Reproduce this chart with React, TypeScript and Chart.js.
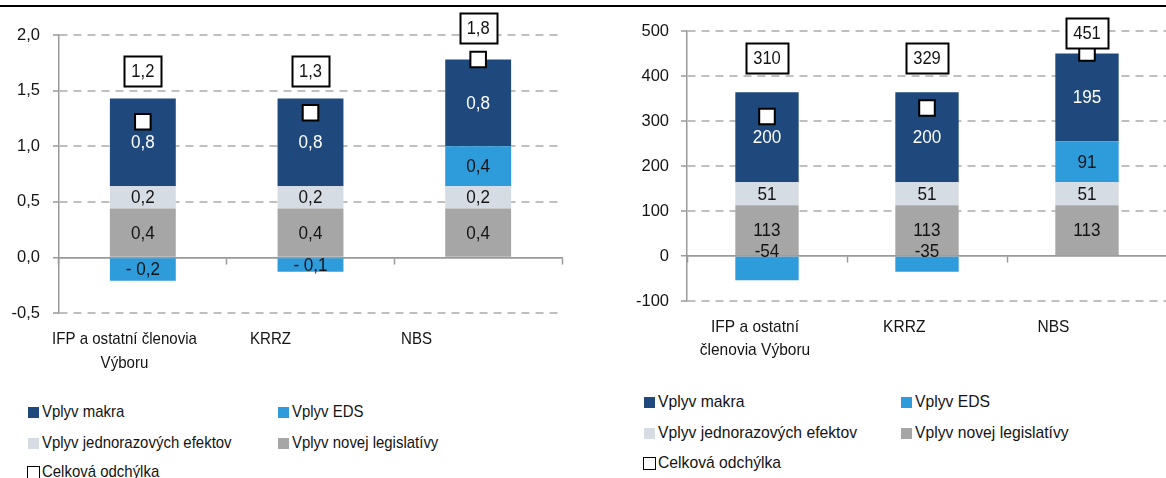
import React, { useEffect, useRef } from 'react';
import { Chart, registerables } from 'chart.js';

Chart.register(...registerables);

// ---------- DATA ----------
const seriesNames = ['Vplyv makra', 'Vplyv EDS', 'Vplyv jednorazových efektov', 'Vplyv novej legislatívy'];
const totalName = 'Celková odchýlka';

const leftCategories = [['IFP a ostatní členovia', 'Výboru'], ['KRRZ'], ['NBS']];
const leftLegislativa = [0.44, 0.44, 0.44];
const leftJednorazove = [0.2, 0.2, 0.2];
const leftEDS = [-0.21, -0.13, 0.36];
const leftMakro = [0.79, 0.79, 0.78];
const leftTotal = [1.22, 1.3, 1.78];
const leftAxis = { min: -0.5, max: 2.0, step: 0.5 };

const rightCategories = [['IFP a ostatní', 'členovia Výboru'], ['KRRZ'], ['NBS']];
const rightLegislativa = [113, 113, 113];
const rightJednorazove = [51, 51, 51];
const rightEDS = [-54, -35, 91];
const rightMakro = [200, 200, 195];
const rightTotal = [310, 329, 451];
const rightAxis = { min: -100, max: 500, step: 100 };

// ---------- STYLE ----------
const FONT = '"Liberation Sans", Arial, Helvetica, sans-serif';
const C_MAKRO = '#1F497D';
const C_EDS = '#2E9BDB';
const C_JEDNO = '#D6DCE4';
const C_LEG = '#A6A6A6';
const AXIS = '#9a9a9a';
const GRID = '#bfbfbf';
const TEXT = '#141414';

const fmtDec = (v: number) => (v < 0 ? '- ' + (-v).toFixed(1) : v.toFixed(1)).replace('.', ',');
const fmtTickDec = (v: number) => v.toFixed(1).replace('.', ',');
const fmtInt = (v: number) => String(Math.round(v));

type Panel = {
  categories: string[][];
  leg: number[]; jed: number[]; eds: number[]; mak: number[]; total: number[];
  axis: { min: number; max: number; step: number };
  fmtTick: (v: number) => string;
  fmtBar: (v: number) => string;
  fmtTotal: (v: number) => string;
  width: number; height: number;
  axisWidth: number; areaTop: number; areaBottom: number; padRight: number;
  barPct: number; tickPad: number;
  catFont: number; catSquish: number; labelStart: number; labelSpacing: number; labelFirst: number; labelLine: number;
  boxRow: number; boxGap: number; negAbove: boolean;
};

const leftPanel: Panel = {
  categories: leftCategories,
  leg: leftLegislativa, jed: leftJednorazove, eds: leftEDS, mak: leftMakro, total: leftTotal,
  axis: leftAxis,
  fmtTick: fmtTickDec, fmtBar: fmtDec, fmtTotal: (v) => v.toFixed(1).replace('.', ','),
  width: 575, height: 380,
  axisWidth: 59, areaTop: 35, areaBottom: 313, padRight: 13,
  barPct: 0.393, tickPad: 13,
  catFont: 17, catSquish: 0.887, labelStart: 65.5, labelSpacing: 146, labelFirst: 26, labelLine: 24,
  boxRow: 1.68, boxGap: 31, negAbove: false,
};

const rightPanel: Panel = {
  categories: rightCategories,
  leg: rightLegislativa, jed: rightJednorazove, eds: rightEDS, mak: rightMakro, total: rightTotal,
  axis: rightAxis,
  fmtTick: fmtInt, fmtBar: fmtInt, fmtTotal: fmtInt,
  width: 580, height: 380,
  axisWidth: 87, areaTop: 31, areaBottom: 301, padRight: 8.5,
  barPct: 0.396, tickPad: 12,
  catFont: 17, catSquish: 0.913, labelStart: 68, labelSpacing: 149.25, labelFirst: 26, labelLine: 23.5,
  boxRow: 440, boxGap: 20, negAbove: true,
};

function drawSquished(ctx: any, txt: string, x: number, y: number, sq: number) {
  ctx.save();
  ctx.translate(x, y);
  ctx.scale(sq, 1);
  ctx.fillText(txt, 0, 0);
  ctx.restore();
}

function ChartPanel({ p, left }: { p: Panel; left: number }) {
  const ref = useRef<HTMLCanvasElement>(null);
  useEffect(() => {
    const canvas = ref.current!;
    const barColors = [C_LEG, C_JEDNO, C_EDS, C_MAKRO];
    const labelColors = [TEXT, TEXT, TEXT, '#ffffff'];
    const barData = [p.leg, p.jed, p.eds, p.mak];
    const barNames = [seriesNames[3], seriesNames[2], seriesNames[1], seriesNames[0]];

    const datasets: any[] = barData.map((d, i) => ({
      type: 'bar',
      label: barNames[i],
      data: d,
      backgroundColor: barColors[i],
      borderWidth: 0,
      order: 1,
      xAxisID: 'x',
      yAxisID: 'y',
    }));
    datasets.push({
      type: 'line',
      label: totalName,
      data: p.total,
      showLine: false,
      pointStyle: 'rect',
      pointRadius: 11,
      pointHoverRadius: 11,
      pointBackgroundColor: '#ffffff',
      pointBorderColor: '#000000',
      pointBorderWidth: 2,
      order: 0,
      stack: 'total',
      clip: false,
      xAxisID: 'x',
      yAxisID: 'y',
    });

    const barLabels = {
      id: 'barLabels',
      afterDatasetsDraw(chart: any) {
        const ctx = chart.ctx;
        ctx.save();
        ctx.font = `18px ${FONT}`;
        ctx.textAlign = 'center';
        ctx.textBaseline = 'middle';
        for (let di = 0; di < 4; di++) {
          const meta = chart.getDatasetMeta(di);
          meta.data.forEach((el: any, i: number) => {
            const v = barData[di][i];
            const props = el.getProps(['x', 'y', 'base'], true);
            let cy = (props.y + props.base) / 2;
            if (v < 0 && p.negAbove) cy = props.base - 6;
            ctx.fillStyle = labelColors[di];
            drawSquished(ctx, p.fmtBar(v), props.x, cy + 1, 0.95);
          });
        }
        ctx.restore();
      },
    };

    const totals = {
      id: 'totalBoxes',
      afterDatasetsDraw(chart: any) {
        const ctx = chart.ctx;
        const meta = chart.getDatasetMeta(4);
        const rowPx = chart.scales.y.getPixelForValue(p.boxRow);
        ctx.save();
        ctx.font = `18px ${FONT}`;
        ctx.textAlign = 'center';
        ctx.textBaseline = 'middle';
        meta.data.forEach((pt: any, i: number) => {
          const txt = p.fmtTotal(p.total[i]);
          const cy = Math.min(rowPx, pt.y - p.boxGap);
          const tw = ctx.measureText(txt).width * 0.92;
          const w = Math.round(tw + 14);
          const h = 30;
          const x0 = Math.round(pt.x - w / 2) + 0.5;
          const y0 = Math.round(cy - h / 2) + 0.5;
          ctx.fillStyle = '#ffffff';
          ctx.fillRect(x0, y0, w, h);
          ctx.lineWidth = 2;
          ctx.strokeStyle = '#000000';
          ctx.strokeRect(x0, y0, w, h);
          ctx.fillStyle = TEXT;
          drawSquished(ctx, txt, pt.x, cy + 1, 0.92);
        });
        ctx.restore();
      },
    };

    const catLabels = {
      id: 'catLabels',
      afterDraw(chart: any) {
        const ctx = chart.ctx;
        const area = chart.chartArea;
        ctx.save();
        ctx.font = `${p.catFont}px ${FONT}`;
        ctx.fillStyle = TEXT;
        ctx.textAlign = 'center';
        ctx.textBaseline = 'middle';
        p.categories.forEach((lines, i) => {
          const cx = area.left + p.labelStart + i * p.labelSpacing;
          lines.forEach((ln, j) => {
            drawSquished(ctx, ln, cx, area.bottom + p.labelFirst + j * p.labelLine, p.catSquish);
          });
        });
        ctx.restore();
      },
    };

    const chart = new Chart(canvas, {
      type: 'bar',
      data: { labels: p.categories.map((c) => c.join(' ')), datasets },
      options: {
        animation: false,
        responsive: false,
        maintainAspectRatio: false,
        layout: { padding: { top: p.areaTop, right: p.padRight, left: 0, bottom: 0 } },
        plugins: { legend: { display: false }, tooltip: { enabled: false } },
        datasets: { bar: { categoryPercentage: 1, barPercentage: p.barPct } },
        scales: {
          x: {
            type: 'category',
            stacked: true,
            grid: { display: false },
            border: { display: false },
            ticks: { display: false },
            afterFit: (s: any) => { s.height = p.height - p.areaBottom; },
          },
          x2: {
            type: 'category',
            position: { y: 0 },
            offset: true,
            grid: {
              display: true,
              drawOnChartArea: false,
              drawTicks: true,
              tickLength: 6,
              tickColor: AXIS,
              tickWidth: 1.5,
              offset: true,
            },
            ticks: { display: false },
            border: { display: true, color: AXIS, width: 1.5 },
          },
          y: {
            type: 'linear',
            stacked: true,
            min: p.axis.min,
            max: p.axis.max,
            ticks: {
              stepSize: p.axis.step,
              callback: (v: any) => p.fmtTick(Number(v)),
              color: TEXT,
              font: { family: FONT, size: 16.5 },
              padding: p.tickPad,
            },
            grid: {
              color: (c: any) => (c.tick && c.tick.value === 0 ? AXIS : GRID),
              lineWidth: (c: any) => (c.tick && c.tick.value === 0 ? 1.5 : 2),
              tickColor: AXIS,
              tickLength: 6,
              tickWidth: 1.5,
            },
            border: {
              display: true,
              color: AXIS,
              width: 1.5,
              dash: (c: any) => (c.tick && c.tick.value === 0 ? [] : [8, 6]),
            },
            afterFit: (s: any) => { s.width = p.axisWidth; },
          },
        },
      } as any,
      plugins: [barLabels, totals, catLabels],
    });
    return () => chart.destroy();
  }, [p]);

  return (
    <canvas
      ref={ref}
      width={p.width}
      height={p.height}
      style={{ position: 'absolute', left, top: 0, width: p.width, height: p.height }}
    />
  );
}

function Legend({ cols, rows, font, squish }: { cols: number[]; rows: number[]; font: number; squish: number }) {
  const items = [
    { name: seriesNames[0], color: C_MAKRO, col: 0, row: 0 },
    { name: seriesNames[1], color: C_EDS, col: 1, row: 0 },
    { name: seriesNames[2], color: C_JEDNO, col: 0, row: 1 },
    { name: seriesNames[3], color: C_LEG, col: 1, row: 1 },
  ];
  const lh = 22;
  const textStyle: React.CSSProperties = {
    display: 'inline-block',
    transform: `scaleX(${squish})`,
    transformOrigin: 'left center',
  };
  const rowStyle = (x: number, y: number): React.CSSProperties => ({
    position: 'absolute', left: x, top: y - lh / 2, height: lh,
    display: 'flex', alignItems: 'center', whiteSpace: 'nowrap',
    font: `${font}px ${FONT}`, color: TEXT,
  });
  return (
    <>
      {items.map((it) => (
        <div key={it.name} style={rowStyle(cols[it.col], rows[it.row])}>
          <span style={{ display: 'inline-block', width: 11, height: 11, background: it.color, marginRight: 3, flex: 'none' }} />
          <span style={textStyle}>{it.name}</span>
        </div>
      ))}
      <div style={rowStyle(cols[0] - 1, rows[2])}>
        <span style={{ display: 'inline-block', width: 13, height: 13, boxSizing: 'border-box', border: '1.5px solid #000', background: '#fff', marginRight: 2, flex: 'none' }} />
        <span style={textStyle}>{totalName}</span>
      </div>
    </>
  );
}

export default function App() {
  return (
    <div
      style={{
        position: 'fixed', left: 0, top: 0, width: 1166, height: 478,
        overflow: 'hidden', background: '#ffffff',
      }}
    >
      <div style={{ position: 'absolute', left: 0, top: 5, width: 1166, height: 2, background: '#000' }} />
      <ChartPanel p={leftPanel} left={0} />
      <ChartPanel p={rightPanel} left={600} />
      <Legend cols={[28, 278]} rows={[412, 443, 472]} font={17} squish={0.88} />
      <Legend cols={[644, 901]} rows={[402, 433, 463]} font={17} squish={0.924} />
    </div>
  );
}
